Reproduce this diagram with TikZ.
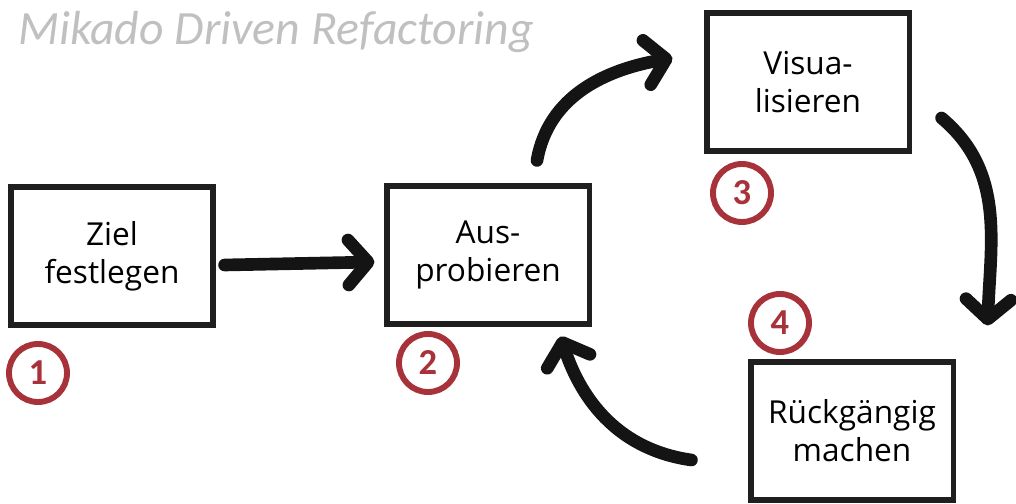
\documentclass[tikz,border=0pt]{standalone}
\usepackage{fontspec}
\setmainfont{Open Sans}
\newfontfamily\titlefont{Carlito}
\usepackage{xcolor}
\usepackage{tikz}
\usetikzlibrary{arrows.meta}
\definecolor{cNummer}{RGB}{168,50,58}
\definecolor{cTitel}{RGB}{192,192,192}

\begin{document}
\begin{tikzpicture}[x=0.025cm,y=0.025cm,font=\fontsize{22.5}{27}\selectfont,
  schritt/.style={draw=black!88,line width=3.6pt,minimum width=5.05cm,minimum height=3.45cm,align=center,inner sep=0pt},
  nummer/.style={circle,draw=cNummer,line width=4.2pt,minimum size=1.45cm,inner sep=0pt,text=cNummer,font=\titlefont\bfseries\fontsize{26}{26}\selectfont},
  pinsel/.style={line width=9pt,line cap=round,black!92,-{Straight Barb[round,length=14pt,width=32pt]}}]
\useasboundingbox (0,0) rectangle (1016,504);
\node[anchor=base west,inner sep=0pt,text=cTitel,font=\titlefont\itshape\fontsize{34}{34}\selectfont] (titel) at (18,459){Mikado Driven Refactoring};
% Schritte
\node[schritt] (ziel) at (112,248){Ziel\\festlegen};
\node[schritt] (aus) at (488,249){Aus-\\probieren};
\node[schritt] (vis) at (808,422){Visua-\\lisieren};
\node[schritt] (rueck) at (852,73){Rückgängig\\machen};
\node[nummer] (n1) at (38,131){1};
\node[nummer] (n2) at (428,141){2};
\node[nummer] (n3) at (742,311){3};
\node[nummer] (n4) at (780,181){4};
% Pfeile
\draw[pinsel] ([shift={(9,-9)}]ziel.east)--([shift={(-10,-7)}]aus.west);
\draw[pinsel] ([shift={(49,23)}]aus.north) to[out=80,in=190] ([shift={(-32,24)}]vis.west);
\draw[pinsel] ([shift={(30,-36)}]vis.east) to[out=-40,in=88] ([shift={(32,34)}]rueck.north east);
\draw[pinsel] ([shift={(-57,-29)}]rueck.west) to[out=172,in=-72] ([shift={(-31,-10)}]aus.south east);
\end{tikzpicture}
\end{document}
